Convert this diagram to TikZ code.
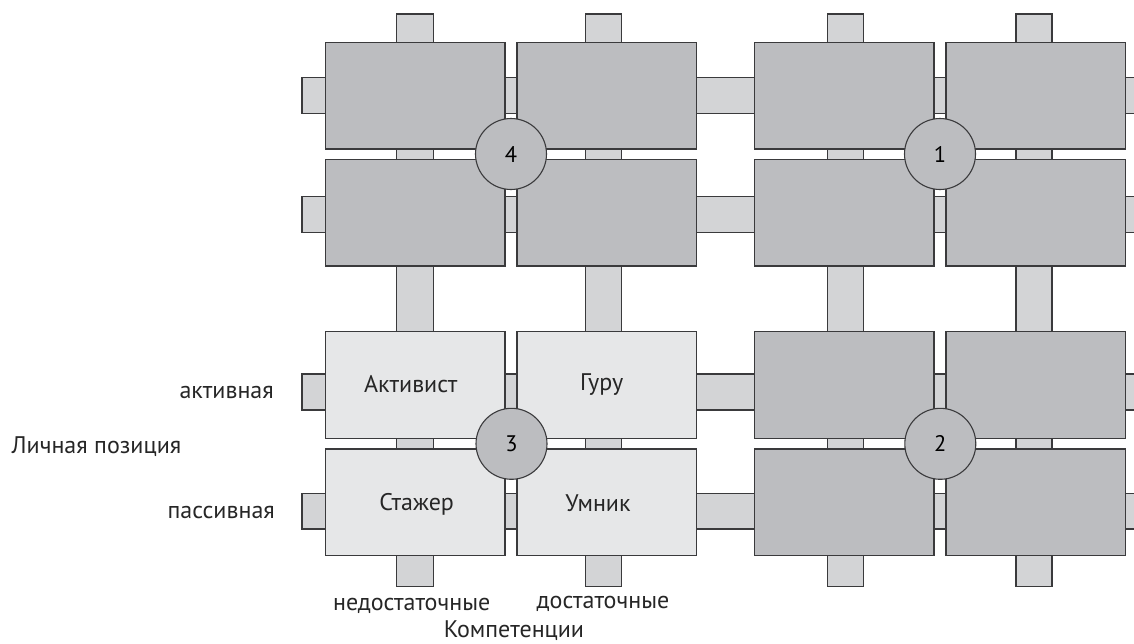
\documentclass[tikz,border=0pt]{standalone}
\usepackage{fontspec}
\setmainfont{PT Sans}
\definecolor{darkfill}{HTML}{BCBDC0}
\definecolor{barfill}{HTML}{D3D4D6}
\definecolor{lightfill}{HTML}{E6E7E8}
\definecolor{edge}{HTML}{3A3A3C}
\tikzset{
  base/.style={draw=edge, line width=1.1pt},
  darkbox/.style={base, fill=darkfill, minimum width=179.5pt, minimum height=106.7pt, inner sep=0pt},
  lightbox/.style={base, fill=lightfill, minimum width=179.5pt, minimum height=106.7pt, inner sep=0pt},
  bar/.style={base, fill=barfill},
  numcirc/.style={base, fill=darkfill, circle, minimum size=71pt, inner sep=0pt, font=\fontsize{22.5}{26}\selectfont},
  lbl/.style={inner sep=0pt, font=\fontsize{24}{28}\selectfont, text=black!85},
}
\begin{document}
\begin{tikzpicture}[x=1pt,y=-1pt]
\useasboundingbox (0,0) rectangle (1134,643);
\clip (0,0) rectangle (1134,643);
% vertical bars
\foreach \xa/\xb in {396.7/433.3, 585.7/621.7, 827.5/863.7, 1016/1052}
  \draw[bar] (\xa,14) rectangle (\xb,586.5);
% horizontal bars
\foreach \ya/\yb in {77.5/113.7, 196.7/232.7, 374/410, 493.3/529}
  \draw[bar] (302,\ya) rectangle (1145,\yb);
% boxes
\node[darkbox] (b11) at (415.25,95.65) {};
\node[darkbox] (b12) at (606.75,95.65) {};
\node[darkbox] (b13) at (844.25,95.65) {};
\node[darkbox] (b14) at (1035.75,95.65) {};
\node[darkbox] (b21) at (415.25,212.65) {};
\node[darkbox] (b22) at (606.75,212.65) {};
\node[darkbox] (b23) at (844.25,212.65) {};
\node[darkbox] (b24) at (1035.75,212.65) {};
\node[lightbox] (b31) at (415.25,385.15) {};
\node[lightbox] (b32) at (606.75,385.15) {};
\node[darkbox] (b33) at (844.25,385.15) {};
\node[darkbox] (b34) at (1035.75,385.15) {};
\node[lightbox] (b41) at (415.25,502.35) {};
\node[lightbox] (b42) at (606.75,502.35) {};
\node[darkbox] (b43) at (844.25,502.35) {};
\node[darkbox] (b44) at (1035.75,502.35) {};
% circles
\node[numcirc] (c4) at (511,154) {4};
\node[numcirc] (c1) at (940,154) {1};
\node[numcirc] (c3) at (511.5,443.8) {3};
\node[numcirc] (c2) at (940.3,443.8) {2};
% box labels
\node[lbl, anchor=base] (t1) at (410.7,392.7) {Активист};
\node[lbl, anchor=base] (t2) at (601.7,390) {Гуру};
\node[lbl, anchor=base] (t3) at (416.7,510) {Стажер};
\node[lbl, anchor=base] (t4) at (598,511) {Умник};
% axis labels
\node[lbl, anchor=base] (x1) at (411.7,610) {недостаточные};
\node[lbl, anchor=base] (x2) at (603,608.5) {достаточные};
\node[lbl, anchor=base] (x3) at (514,637.5) {Компетенции};
\node[lbl, anchor=base east] (y1) at (274,398.3) {активная};
\node[lbl, anchor=base west] (y2) at (11.5,453.3) {Личная позиция};
\node[lbl, anchor=base east] (y3) at (275,518.3) {пассивная};
\end{tikzpicture}
\end{document}
